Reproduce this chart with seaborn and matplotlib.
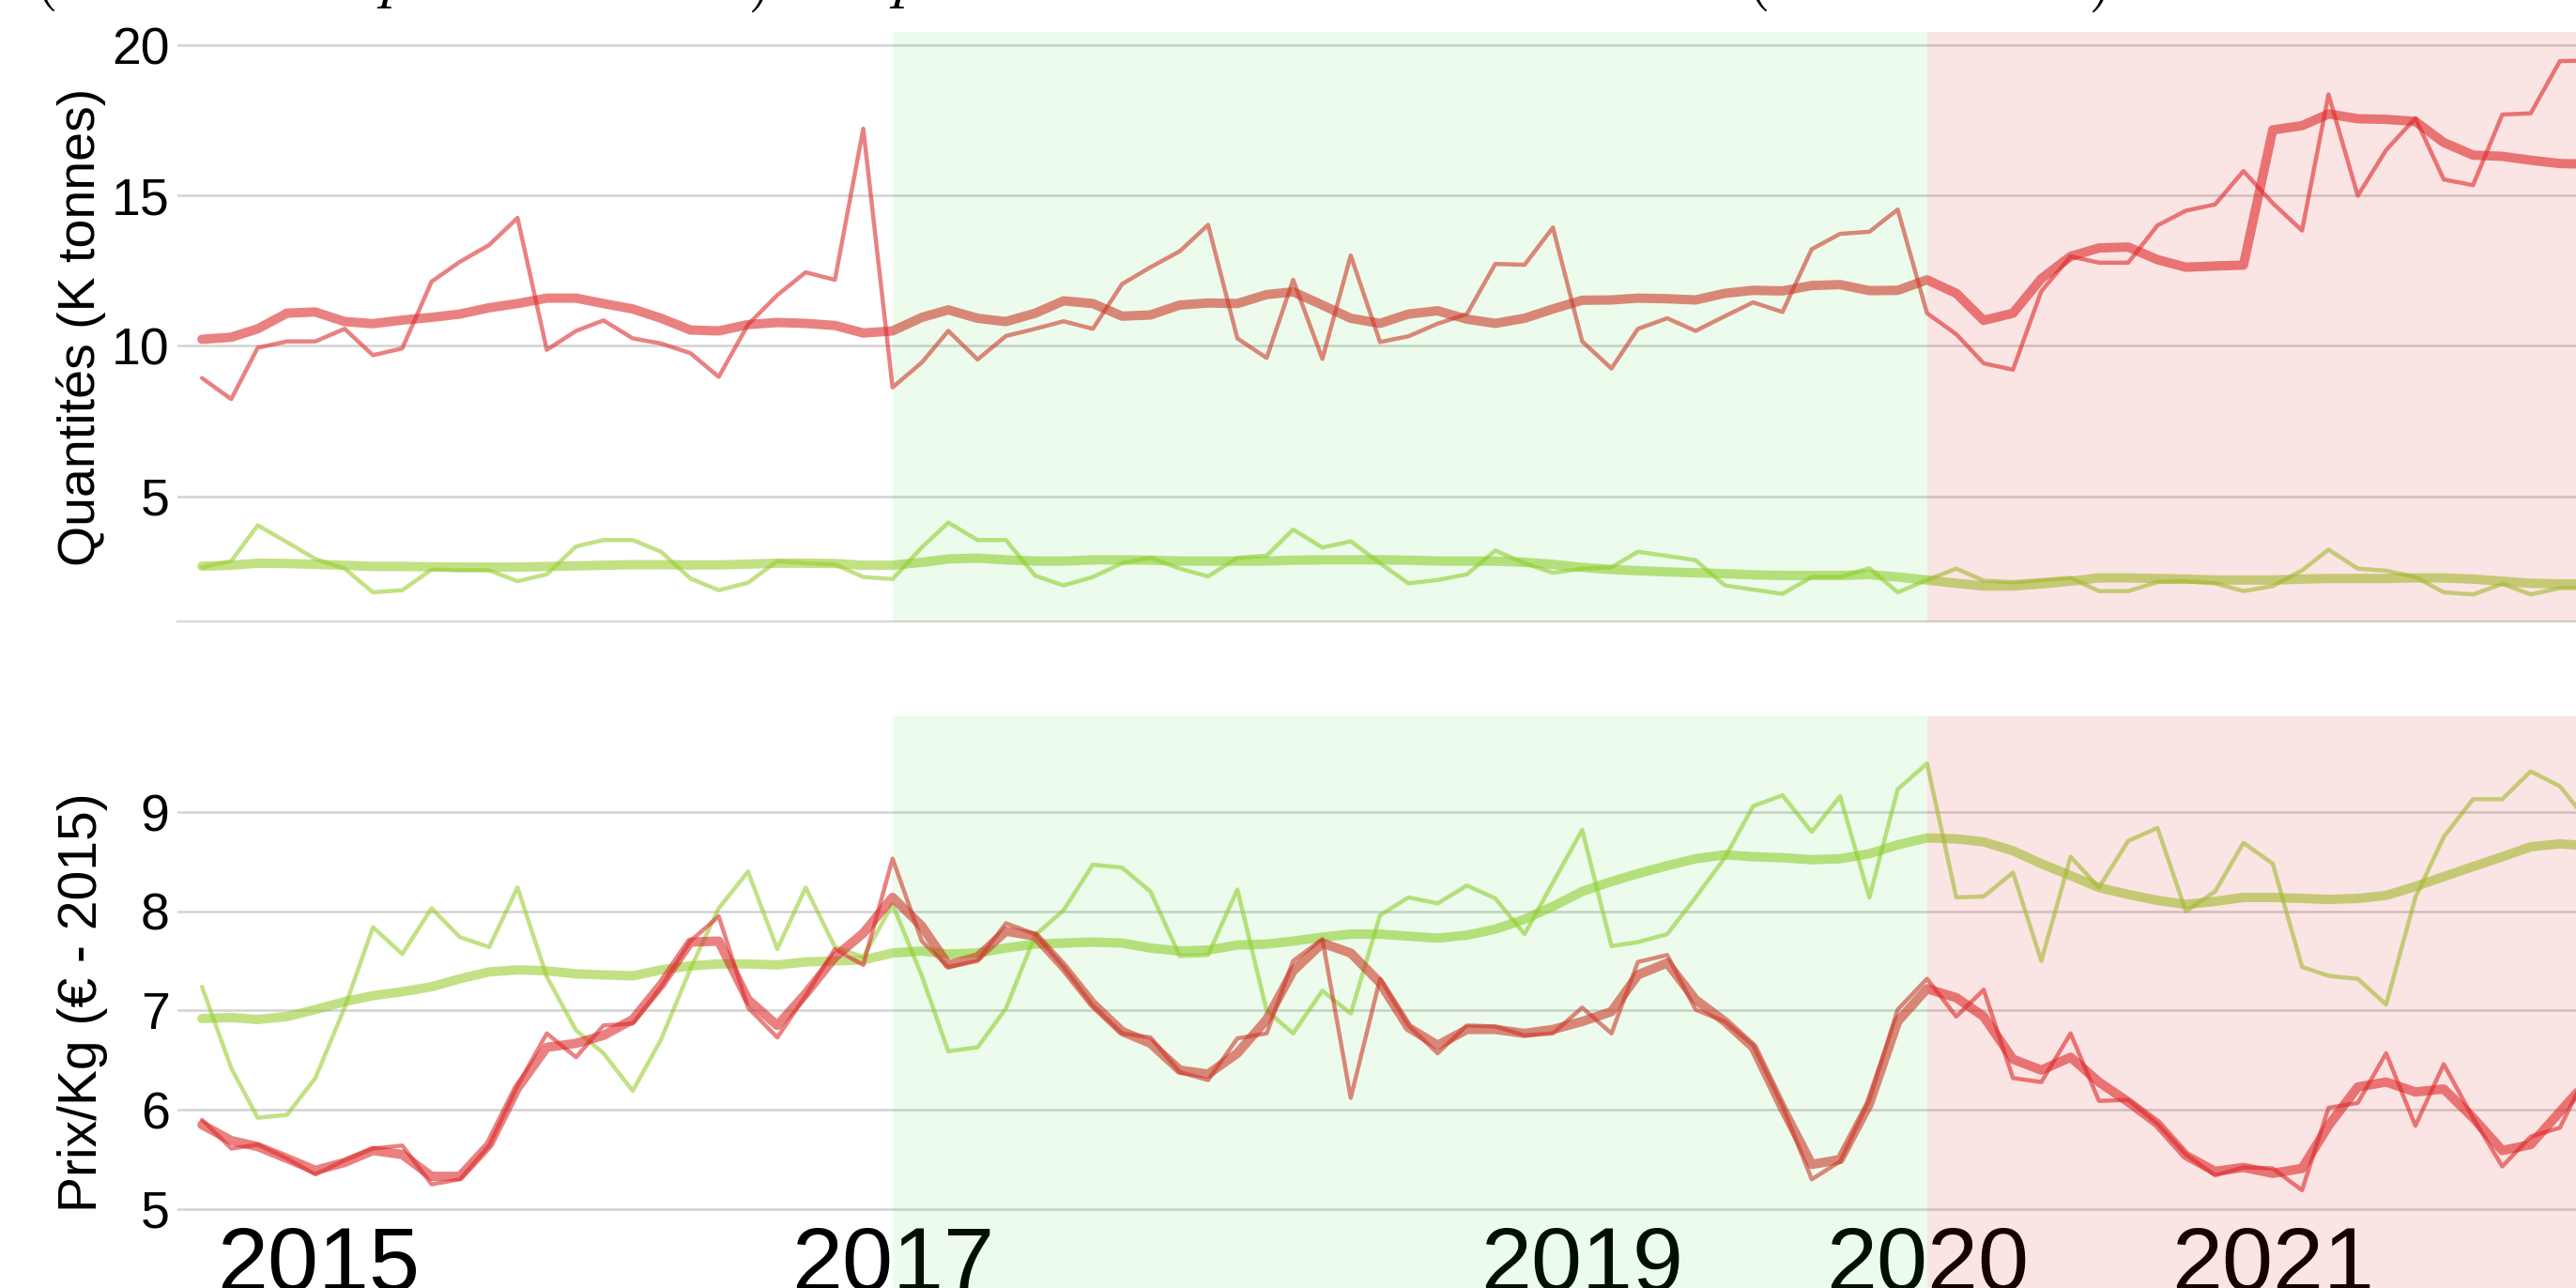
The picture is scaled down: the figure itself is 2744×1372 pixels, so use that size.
import numpy as np
import pandas as pd
import matplotlib
matplotlib.use("Agg")
import matplotlib.pyplot as plt
import seaborn as sns

sns.set_theme(style="white")
plt.rcParams['font.family'] = ['Liberation Sans', 'DejaVu Sans']

# ---------------- data (monthly, Jan 2015 -> Dec 2021) ----------------
months = pd.date_range("2015-01-01", periods=84, freq="MS")

qty_red_raw = [8.93, 8.23, 9.94, 10.15, 10.15, 10.57, 9.69, 9.92, 12.14, 12.80, 13.36, 14.26,
               9.87, 10.50, 10.85, 10.25, 10.08, 9.76, 8.97, 10.71, 11.69, 12.45, 12.20, 17.23,
               8.62, 9.45, 10.50, 9.55, 10.33, 10.57, 10.82, 10.57, 12.06, 12.62, 13.15, 14.03,
               10.25, 9.60, 12.20, 9.57, 13.01, 10.13, 10.32, 10.74, 11.06, 12.73, 12.70, 13.94,
               10.15, 9.25, 10.57, 10.92, 10.50, 10.99, 11.45, 11.13, 13.22, 13.73, 13.80, 14.54,
               11.09, 10.39, 9.42, 9.21, 11.82, 12.98, 12.77, 12.77, 14.01, 14.50, 14.71, 15.82,
               14.75, 13.84, 18.37, 15.00, 16.52, 17.58, 15.54, 15.35, 17.70, 17.74, 19.48, 19.50]
qty_red_trend = [10.22, 10.29, 10.57, 11.09, 11.13, 10.81, 10.74, 10.86, 10.95, 11.06, 11.27, 11.41,
                 11.59, 11.59, 11.41, 11.23, 10.92, 10.53, 10.50, 10.71, 10.78, 10.75, 10.68, 10.43,
                 10.50, 10.95, 11.20, 10.92, 10.81, 11.09, 11.50, 11.41, 10.99, 11.03, 11.36, 11.43,
                 11.41, 11.71, 11.80, 11.36, 10.92, 10.75, 11.06, 11.17, 10.89, 10.75, 10.92, 11.23,
                 11.52, 11.53, 11.59, 11.57, 11.53, 11.75, 11.85, 11.83, 12.01, 12.04, 11.84, 11.85,
                 12.20, 11.75, 10.85, 11.09, 12.24, 12.98, 13.26, 13.29, 12.87, 12.62, 12.66, 12.69,
                 17.19, 17.33, 17.72, 17.56, 17.54, 17.47, 16.77, 16.35, 16.31, 16.18, 16.07, 16.05]
qty_green_raw = [2.63, 2.84, 4.03, 3.47, 2.91, 2.59, 1.80, 1.87, 2.56, 2.53, 2.53, 2.17,
                 2.40, 3.33, 3.54, 3.54, 3.15, 2.26, 1.87, 2.12, 2.84, 2.77, 2.73, 2.31,
                 2.24, 3.30, 4.12, 3.54, 3.54, 2.35, 2.03, 2.31, 2.77, 2.95, 2.59, 2.33,
                 2.95, 3.02, 3.89, 3.29, 3.50, 2.77, 2.10, 2.21, 2.40, 3.19, 2.77, 2.45,
                 2.59, 2.63, 3.15, 3.01, 2.87, 2.03, 1.89, 1.75, 2.31, 2.31, 2.60, 1.80,
                 2.21, 2.59, 2.19, 2.14, 2.21, 2.28, 1.84, 1.84, 2.14, 2.17, 2.10, 1.84,
                 2.01, 2.53, 3.22, 2.59, 2.52, 2.31, 1.80, 1.73, 2.08, 1.73, 1.94, 1.94]
qty_green_trend = [2.67, 2.70, 2.77, 2.76, 2.73, 2.70, 2.66, 2.66, 2.65, 2.64, 2.64, 2.64,
                   2.66, 2.68, 2.70, 2.72, 2.72, 2.71, 2.71, 2.74, 2.77, 2.77, 2.76, 2.70,
                   2.70, 2.80, 2.91, 2.94, 2.88, 2.84, 2.84, 2.88, 2.88, 2.87, 2.84, 2.84,
                   2.84, 2.84, 2.87, 2.88, 2.88, 2.88, 2.87, 2.84, 2.84, 2.84, 2.80, 2.73,
                   2.63, 2.56, 2.52, 2.48, 2.45, 2.42, 2.38, 2.36, 2.36, 2.36, 2.39, 2.31,
                   2.21, 2.10, 2.01, 2.01, 2.08, 2.17, 2.28, 2.28, 2.26, 2.24, 2.21, 2.21,
                   2.21, 2.24, 2.26, 2.26, 2.26, 2.28, 2.28, 2.24, 2.17, 2.10, 2.08, 2.08]

price_red_raw = [5.90, 5.61, 5.65, 5.51, 5.35, 5.49, 5.61, 5.64, 5.25, 5.30, 5.64, 6.24,
                 6.77, 6.53, 6.85, 6.87, 7.24, 7.70, 7.95, 7.03, 6.73, 7.15, 7.62, 7.46,
                 8.53, 7.70, 7.44, 7.50, 7.88, 7.77, 7.44, 7.05, 6.77, 6.73, 6.38, 6.30,
                 6.72, 6.77, 7.50, 7.72, 6.12, 7.32, 6.85, 6.57, 6.85, 6.84, 6.75, 6.77,
                 7.03, 6.77, 7.49, 7.56, 7.01, 6.89, 6.65, 6.04, 5.30, 5.48, 6.10, 7.01,
                 7.32, 6.94, 7.21, 6.32, 6.28, 6.77, 6.09, 6.10, 5.86, 5.55, 5.34, 5.42,
                 5.41, 5.19, 6.02, 6.07, 6.57, 5.84, 6.46, 5.92, 5.43, 5.73, 5.82, 6.40]
price_red_trend = [5.85, 5.69, 5.63, 5.51, 5.39, 5.47, 5.59, 5.55, 5.33, 5.33, 5.65, 6.22,
                   6.63, 6.67, 6.75, 6.91, 7.26, 7.69, 7.70, 7.11, 6.85, 7.17, 7.54, 7.78,
                   8.14, 7.85, 7.46, 7.54, 7.80, 7.75, 7.44, 7.07, 6.79, 6.67, 6.40, 6.36,
                   6.57, 6.91, 7.40, 7.68, 7.58, 7.28, 6.83, 6.65, 6.81, 6.81, 6.77, 6.81,
                   6.89, 6.99, 7.36, 7.48, 7.11, 6.89, 6.63, 6.02, 5.45, 5.50, 6.06, 6.89,
                   7.22, 7.13, 6.94, 6.51, 6.40, 6.53, 6.28, 6.08, 5.86, 5.54, 5.38, 5.42,
                   5.36, 5.41, 5.84, 6.23, 6.28, 6.18, 6.21, 5.92, 5.59, 5.65, 5.98, 6.30]
price_green_raw = [7.24, 6.42, 5.92, 5.95, 6.32, 7.03, 7.84, 7.57, 8.03, 7.74, 7.64, 8.24,
                   7.34, 6.80, 6.57, 6.19, 6.71, 7.42, 8.03, 8.40, 7.62, 8.24, 7.64, 7.54,
                   8.07, 7.35, 6.59, 6.63, 7.02, 7.76, 8.01, 8.47, 8.44, 8.20, 7.55, 7.56,
                   8.22, 7.00, 6.77, 7.20, 6.97, 7.96, 8.14, 8.08, 8.26, 8.13, 7.77, 8.29,
                   8.82, 7.65, 7.69, 7.77, 8.14, 8.54, 9.06, 9.17, 8.80, 9.16, 8.14, 9.23,
                   9.49, 8.14, 8.15, 8.39, 7.50, 8.55, 8.24, 8.71, 8.84, 8.00, 8.20, 8.69,
                   8.48, 7.44, 7.35, 7.32, 7.06, 8.14, 8.75, 9.13, 9.13, 9.41, 9.26, 8.90]
price_green_trend = [6.92, 6.93, 6.91, 6.94, 7.01, 7.09, 7.15, 7.19, 7.24, 7.32, 7.39, 7.41,
                     7.40, 7.37, 7.36, 7.35, 7.41, 7.45, 7.47, 7.47, 7.46, 7.49, 7.50, 7.51,
                     7.58, 7.60, 7.57, 7.58, 7.63, 7.67, 7.68, 7.69, 7.68, 7.63, 7.60, 7.61,
                     7.66, 7.67, 7.70, 7.74, 7.77, 7.77, 7.75, 7.73, 7.76, 7.82, 7.92, 8.05,
                     8.20, 8.30, 8.38, 8.46, 8.53, 8.57, 8.55, 8.54, 8.52, 8.53, 8.58, 8.67,
                     8.74, 8.73, 8.70, 8.61, 8.48, 8.36, 8.24, 8.17, 8.11, 8.07, 8.10, 8.14,
                     8.14, 8.13, 8.12, 8.13, 8.16, 8.25, 8.35, 8.45, 8.55, 8.65, 8.68, 8.66]

qty_yticks = [5, 10, 15, 20]
price_yticks = [5, 6, 7, 8, 9]
tick_years = ["2015-01-01", "2017-01-01", "2019-01-01", "2020-01-01", "2021-01-01"]
year_label_pos = ["2015-05-04", "2017-01-01", "2019-01-01", "2020-01-01", "2021-01-01"]
year_labels = ["2015", "2017", "2019", "2020", "2021"]
period_green = ("2017-01-01", "2020-01-01")
period_red = ("2020-01-01", "2022-06-01")

# ---------------- figure ----------------
W, H = 2744, 1372
fig = plt.figure(figsize=(W / 200, H / 200), dpi=200)
left = 189 / W
ax1 = fig.add_axes([left, 1 - 662 / H, 1 - left, (662 - 34) / H])
ax2 = fig.add_axes([left, 0, 1 - left, (H - 763) / H])

RED = "#dc2d2d"
GREEN = "#9acd32"
THIN, THICK = 1.6, 3.6
A = 0.6

def draw(ax, raw_r, trend_r, raw_g, trend_g):
    sns.lineplot(x=months, y=trend_g, ax=ax, color=GREEN, lw=THICK, alpha=A)
    sns.lineplot(x=months, y=raw_g, ax=ax, color=GREEN, lw=THIN, alpha=A)
    sns.lineplot(x=months, y=trend_r, ax=ax, color=RED, lw=THICK, alpha=A)
    sns.lineplot(x=months, y=raw_r, ax=ax, color=RED, lw=THIN, alpha=A)

draw(ax1, qty_red_raw, qty_red_trend, qty_green_raw, qty_green_trend)
draw(ax2, price_red_raw, price_red_trend, price_green_raw, price_green_trend)

xmin, xmax = pd.Timestamp("2014-12-06"), pd.Timestamp("2021-11-18")
for ax in (ax1, ax2):
    ax.set_xlim(xmin, xmax)
    ax.axvspan(pd.Timestamp(period_green[0]), pd.Timestamp(period_green[1]),
               color=(0, 213 / 255, 0), alpha=0.075, lw=0, zorder=10)
    ax.axvspan(pd.Timestamp(period_red[0]), pd.Timestamp(period_red[1]),
               color=(226 / 255, 0, 0), alpha=0.106, lw=0, zorder=10)
    ax.yaxis.grid(True, color="#d3d3d3", lw=0.9)
    ax.xaxis.grid(False)
    ax.set_axisbelow(True)
    for s in ("top", "right", "left", "bottom"):
        ax.spines[s].set_visible(False)
    ax.tick_params(axis="y", length=0, pad=3.0, labelsize=20, labelcolor="black")
    ax.set_xlabel("")

# top panel
ax1.set_ylim(0.83, 20.45)
ax1.set_yticks(qty_yticks)
ax1.set_yticklabels([str(v) for v in qty_yticks])
ax1.set_xticks([pd.Timestamp(t) for t in tick_years])
ax1.tick_params(axis="x", length=2.9, width=1.3, color="black", direction="out", labelbottom=False)
ax1.spines["bottom"].set_visible(True)
ax1.spines["bottom"].set_color("#d6d6d6")
ax1.spines["bottom"].set_linewidth(0.8)
ax1.set_ylabel("Quantités (K tonnes)", fontsize=20, color="black")
ax1.yaxis.set_label_coords((113 - 189) / (W - 189), 0.5)

# bottom panel
ax2.set_ylim(4.205, 9.965)
ax2.set_yticks(price_yticks)
ax2.set_yticklabels([str(v) for v in price_yticks])
ax2.set_xticks([pd.Timestamp(t) for t in year_label_pos])
ax2.set_xticklabels(year_labels)
ax2.tick_params(axis="x", length=0, pad=-24, labelsize=35, labelcolor="black")
ax2.set_ylabel("Prix/Kg (€ - 2015)", fontsize=20.5, color="black")
ax2.yaxis.set_label_coords((115 - 189) / (W - 189), 0.5)

# title cut by the top edge of the image: only descenders remain visible
frag_x = [46, 420, 807, 966, 1871, 2235]
frag_t = [r"$($", r"$p$", r"$)$", r"$p$", r"$($", r"$)$"]
for x, t in zip(frag_x, frag_t):
    fig.text(x / W, 1 + 4.5 / H, t, fontsize=25, math_fontfamily="cm",
             ha="center", va="baseline", color="black")

fig.savefig("out.png", dpi=200)
